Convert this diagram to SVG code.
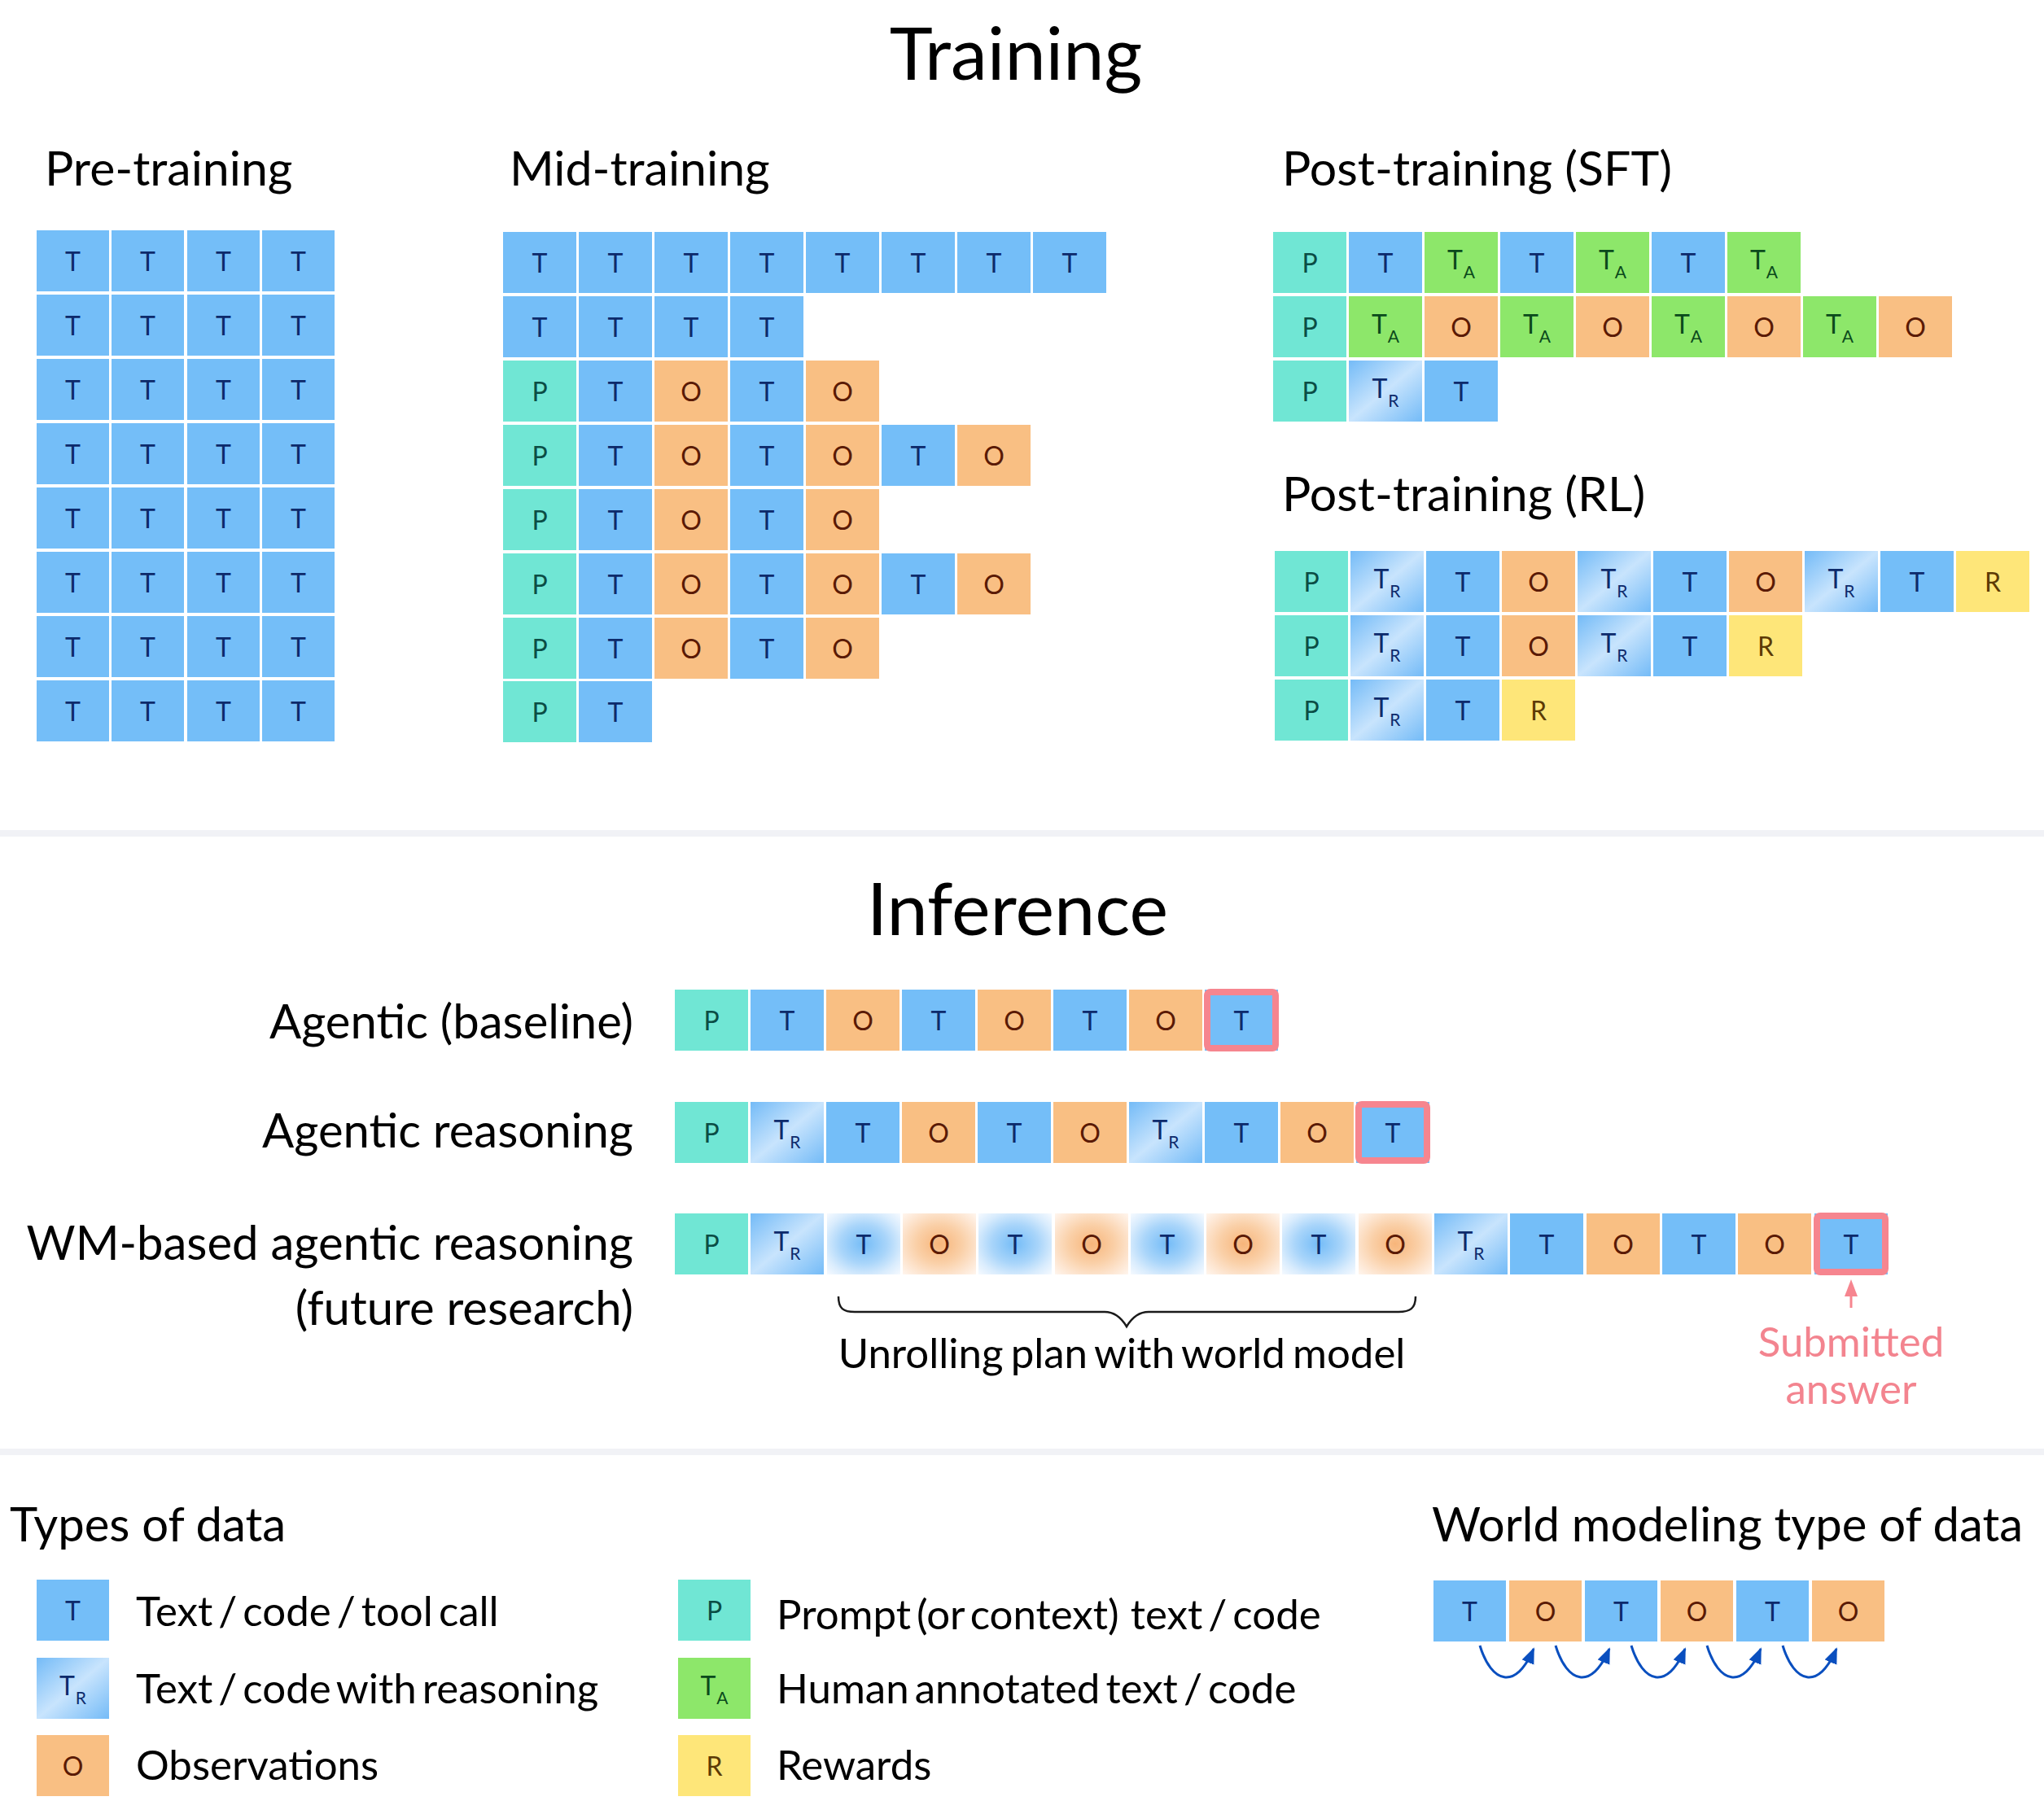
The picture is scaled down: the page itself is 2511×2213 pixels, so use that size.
<svg xmlns="http://www.w3.org/2000/svg" width="2511" height="2213" viewBox="0 0 2511 2213">
<style>
.T{fill:#74bef8}.P{fill:#70e6d4}.O{fill:#f9bf83}.A{fill:#8de76a}.R{fill:#fee679}.G{fill:url(#gTR)}.WT{fill:url(#gWT)}.WO{fill:url(#gWO)}
.t{font-family:Lato,"Open Sans","Liberation Sans",sans-serif;font-size:32px;text-anchor:middle}
.s{font-size:21px}
.nT{fill:#0d2a6b}.nP{fill:#0b4d45}.nO{fill:#5a1a05}.nA{fill:#0b4a1c}.nR{fill:#5c3a05}
.h1{font-family:Lato,"Open Sans","Liberation Sans",sans-serif;font-size:90px;fill:#000;text-anchor:middle}
.h2{font-family:Lato,"Open Sans","Liberation Sans",sans-serif;font-size:59px;fill:#000}
.rl{font-family:Lato,"Open Sans","Liberation Sans",sans-serif;font-size:58px;fill:#000;text-anchor:end}
.lg{font-family:Lato,"Open Sans","Liberation Sans",sans-serif;font-size:51px;fill:#000;word-spacing:-6px}
.hl{fill:none;stroke:#f6858f;stroke-width:8}
.sep{fill:#f1f2f6}
.wmarr{fill:none;stroke:#0a4fbf;stroke-width:3}
</style>
<defs>
<linearGradient id="gTR" x1="0" y1="0" x2="1" y2="1">
<stop offset="0" stop-color="#74bbf7"/><stop offset="0.5" stop-color="#c8e4fd"/><stop offset="1" stop-color="#74bbf7"/>
</linearGradient>
<radialGradient id="gWT" cx="0.5" cy="0.5" r="0.71">
<stop offset="0" stop-color="#74bcf7"/><stop offset="0.45" stop-color="#a9d5fa"/><stop offset="0.75" stop-color="#d9ecfd"/><stop offset="1" stop-color="#f6faff"/>
</radialGradient>
<radialGradient id="gWO" cx="0.5" cy="0.5" r="0.71">
<stop offset="0" stop-color="#f7b57a"/><stop offset="0.45" stop-color="#fad0a8"/><stop offset="0.75" stop-color="#fde5d0"/><stop offset="1" stop-color="#fff6ef"/>
</radialGradient>
<marker id="ah" markerUnits="userSpaceOnUse" markerWidth="22" markerHeight="18" refX="18" refY="8" orient="auto">
<path d="M0,0 L20,8 L0,16 z" fill="#0a4fbf"/>
</marker>
</defs>

<rect x="0" y="0" width="2511" height="2213" fill="#fff"/>

<!-- Titles -->
<text class="h1" x="1248" y="98">Training</text>
<text class="h2" x="55" y="228">Pre-training</text>
<text class="h2" x="626" y="228">Mid-training</text>
<text class="h2" x="1575" y="228">Post-training (SFT)</text>
<text class="h2" x="1575" y="628">Post-training (RL)</text>
<rect class="sep" x="0" y="1020" width="2511" height="8"/>
<text class="h1" x="1250" y="1149">Inference</text>
<rect class="sep" x="0" y="1780" width="2511" height="8"/>

<!-- Pre-training -->
<g id="pretraining">
<g transform="translate(45,283)"><rect class="T" x="0" width="89" height="75"/><text class="t nT" x="44.5" y="50">T</text><rect class="T" x="92" width="89" height="75"/><text class="t nT" x="136.5" y="50">T</text><rect class="T" x="185" width="89" height="75"/><text class="t nT" x="229.5" y="50">T</text><rect class="T" x="277" width="89" height="75"/><text class="t nT" x="321.5" y="50">T</text></g>
<g transform="translate(45,362)"><rect class="T" x="0" width="89" height="75"/><text class="t nT" x="44.5" y="50">T</text><rect class="T" x="92" width="89" height="75"/><text class="t nT" x="136.5" y="50">T</text><rect class="T" x="185" width="89" height="75"/><text class="t nT" x="229.5" y="50">T</text><rect class="T" x="277" width="89" height="75"/><text class="t nT" x="321.5" y="50">T</text></g>
<g transform="translate(45,441)"><rect class="T" x="0" width="89" height="75"/><text class="t nT" x="44.5" y="50">T</text><rect class="T" x="92" width="89" height="75"/><text class="t nT" x="136.5" y="50">T</text><rect class="T" x="185" width="89" height="75"/><text class="t nT" x="229.5" y="50">T</text><rect class="T" x="277" width="89" height="75"/><text class="t nT" x="321.5" y="50">T</text></g>
<g transform="translate(45,520)"><rect class="T" x="0" width="89" height="75"/><text class="t nT" x="44.5" y="50">T</text><rect class="T" x="92" width="89" height="75"/><text class="t nT" x="136.5" y="50">T</text><rect class="T" x="185" width="89" height="75"/><text class="t nT" x="229.5" y="50">T</text><rect class="T" x="277" width="89" height="75"/><text class="t nT" x="321.5" y="50">T</text></g>
<g transform="translate(45,599)"><rect class="T" x="0" width="89" height="75"/><text class="t nT" x="44.5" y="50">T</text><rect class="T" x="92" width="89" height="75"/><text class="t nT" x="136.5" y="50">T</text><rect class="T" x="185" width="89" height="75"/><text class="t nT" x="229.5" y="50">T</text><rect class="T" x="277" width="89" height="75"/><text class="t nT" x="321.5" y="50">T</text></g>
<g transform="translate(45,678)"><rect class="T" x="0" width="89" height="75"/><text class="t nT" x="44.5" y="50">T</text><rect class="T" x="92" width="89" height="75"/><text class="t nT" x="136.5" y="50">T</text><rect class="T" x="185" width="89" height="75"/><text class="t nT" x="229.5" y="50">T</text><rect class="T" x="277" width="89" height="75"/><text class="t nT" x="321.5" y="50">T</text></g>
<g transform="translate(45,757)"><rect class="T" x="0" width="89" height="75"/><text class="t nT" x="44.5" y="50">T</text><rect class="T" x="92" width="89" height="75"/><text class="t nT" x="136.5" y="50">T</text><rect class="T" x="185" width="89" height="75"/><text class="t nT" x="229.5" y="50">T</text><rect class="T" x="277" width="89" height="75"/><text class="t nT" x="321.5" y="50">T</text></g>
<g transform="translate(45,836)"><rect class="T" x="0" width="89" height="75"/><text class="t nT" x="44.5" y="50">T</text><rect class="T" x="92" width="89" height="75"/><text class="t nT" x="136.5" y="50">T</text><rect class="T" x="185" width="89" height="75"/><text class="t nT" x="229.5" y="50">T</text><rect class="T" x="277" width="89" height="75"/><text class="t nT" x="321.5" y="50">T</text></g>
</g>

<!-- Mid-training -->
<g id="midtraining">
<g transform="translate(618,285)"><rect class="T" x="0" width="90" height="75"/><text class="t nT" x="45" y="50">T</text><rect class="T" x="93" width="90" height="75"/><text class="t nT" x="138" y="50">T</text><rect class="T" x="186" width="90" height="75"/><text class="t nT" x="231" y="50">T</text><rect class="T" x="279" width="90" height="75"/><text class="t nT" x="324" y="50">T</text><rect class="T" x="372" width="90" height="75"/><text class="t nT" x="417" y="50">T</text><rect class="T" x="465" width="90" height="75"/><text class="t nT" x="510" y="50">T</text><rect class="T" x="558" width="90" height="75"/><text class="t nT" x="603" y="50">T</text><rect class="T" x="651" width="90" height="75"/><text class="t nT" x="696" y="50">T</text></g>
<g transform="translate(618,364)"><rect class="T" x="0" width="90" height="75"/><text class="t nT" x="45" y="50">T</text><rect class="T" x="93" width="90" height="75"/><text class="t nT" x="138" y="50">T</text><rect class="T" x="186" width="90" height="75"/><text class="t nT" x="231" y="50">T</text><rect class="T" x="279" width="90" height="75"/><text class="t nT" x="324" y="50">T</text></g>
<g transform="translate(618,443)"><rect class="P" x="0" width="90" height="75"/><text class="t nP" x="45" y="50">P</text><rect class="T" x="93" width="90" height="75"/><text class="t nT" x="138" y="50">T</text><rect class="O" x="186" width="90" height="75"/><text class="t nO" x="231" y="50">O</text><rect class="T" x="279" width="90" height="75"/><text class="t nT" x="324" y="50">T</text><rect class="O" x="372" width="90" height="75"/><text class="t nO" x="417" y="50">O</text></g>
<g transform="translate(618,522)"><rect class="P" x="0" width="90" height="75"/><text class="t nP" x="45" y="50">P</text><rect class="T" x="93" width="90" height="75"/><text class="t nT" x="138" y="50">T</text><rect class="O" x="186" width="90" height="75"/><text class="t nO" x="231" y="50">O</text><rect class="T" x="279" width="90" height="75"/><text class="t nT" x="324" y="50">T</text><rect class="O" x="372" width="90" height="75"/><text class="t nO" x="417" y="50">O</text><rect class="T" x="465" width="90" height="75"/><text class="t nT" x="510" y="50">T</text><rect class="O" x="558" width="90" height="75"/><text class="t nO" x="603" y="50">O</text></g>
<g transform="translate(618,601)"><rect class="P" x="0" width="90" height="75"/><text class="t nP" x="45" y="50">P</text><rect class="T" x="93" width="90" height="75"/><text class="t nT" x="138" y="50">T</text><rect class="O" x="186" width="90" height="75"/><text class="t nO" x="231" y="50">O</text><rect class="T" x="279" width="90" height="75"/><text class="t nT" x="324" y="50">T</text><rect class="O" x="372" width="90" height="75"/><text class="t nO" x="417" y="50">O</text></g>
<g transform="translate(618,680)"><rect class="P" x="0" width="90" height="75"/><text class="t nP" x="45" y="50">P</text><rect class="T" x="93" width="90" height="75"/><text class="t nT" x="138" y="50">T</text><rect class="O" x="186" width="90" height="75"/><text class="t nO" x="231" y="50">O</text><rect class="T" x="279" width="90" height="75"/><text class="t nT" x="324" y="50">T</text><rect class="O" x="372" width="90" height="75"/><text class="t nO" x="417" y="50">O</text><rect class="T" x="465" width="90" height="75"/><text class="t nT" x="510" y="50">T</text><rect class="O" x="558" width="90" height="75"/><text class="t nO" x="603" y="50">O</text></g>
<g transform="translate(618,759)"><rect class="P" x="0" width="90" height="75"/><text class="t nP" x="45" y="50">P</text><rect class="T" x="93" width="90" height="75"/><text class="t nT" x="138" y="50">T</text><rect class="O" x="186" width="90" height="75"/><text class="t nO" x="231" y="50">O</text><rect class="T" x="279" width="90" height="75"/><text class="t nT" x="324" y="50">T</text><rect class="O" x="372" width="90" height="75"/><text class="t nO" x="417" y="50">O</text></g>
<g transform="translate(618,837)"><rect class="P" x="0" width="90" height="75"/><text class="t nP" x="45" y="50">P</text><rect class="T" x="93" width="90" height="75"/><text class="t nT" x="138" y="50">T</text></g>
</g>

<!-- Post-training SFT -->
<g id="sft">
<g transform="translate(1564,285)"><rect class="P" x="0" width="90" height="75"/><text class="t nP" x="45" y="50">P</text><rect class="T" x="93" width="90" height="75"/><text class="t nT" x="138" y="50">T</text><rect class="A" x="186" width="90" height="75"/><text class="t nA" x="231" y="46">T<tspan class="s" dx="1" dy="11">A</tspan></text><rect class="T" x="279" width="90" height="75"/><text class="t nT" x="324" y="50">T</text><rect class="A" x="372" width="90" height="75"/><text class="t nA" x="417" y="46">T<tspan class="s" dx="1" dy="11">A</tspan></text><rect class="T" x="465" width="90" height="75"/><text class="t nT" x="510" y="50">T</text><rect class="A" x="558" width="90" height="75"/><text class="t nA" x="603" y="46">T<tspan class="s" dx="1" dy="11">A</tspan></text></g>
<g transform="translate(1564,364)"><rect class="P" x="0" width="90" height="75"/><text class="t nP" x="45" y="50">P</text><rect class="A" x="93" width="90" height="75"/><text class="t nA" x="138" y="46">T<tspan class="s" dx="1" dy="11">A</tspan></text><rect class="O" x="186" width="90" height="75"/><text class="t nO" x="231" y="50">O</text><rect class="A" x="279" width="90" height="75"/><text class="t nA" x="324" y="46">T<tspan class="s" dx="1" dy="11">A</tspan></text><rect class="O" x="372" width="90" height="75"/><text class="t nO" x="417" y="50">O</text><rect class="A" x="465" width="90" height="75"/><text class="t nA" x="510" y="46">T<tspan class="s" dx="1" dy="11">A</tspan></text><rect class="O" x="558" width="90" height="75"/><text class="t nO" x="603" y="50">O</text><rect class="A" x="651" width="90" height="75"/><text class="t nA" x="696" y="46">T<tspan class="s" dx="1" dy="11">A</tspan></text><rect class="O" x="744" width="90" height="75"/><text class="t nO" x="789" y="50">O</text></g>
<g transform="translate(1564,443)"><rect class="P" x="0" width="90" height="75"/><text class="t nP" x="45" y="50">P</text><rect class="G" x="93" width="90" height="75"/><text class="t nT" x="138" y="46">T<tspan class="s" dx="1" dy="11">R</tspan></text><rect class="T" x="186" width="90" height="75"/><text class="t nT" x="231" y="50">T</text></g>
</g>

<!-- Post-training RL -->
<g id="rl">
<g transform="translate(1566,677)"><rect class="P" x="0" width="90" height="75"/><text class="t nP" x="45" y="50">P</text><rect class="G" x="93" width="90" height="75"/><text class="t nT" x="138" y="46">T<tspan class="s" dx="1" dy="11">R</tspan></text><rect class="T" x="186" width="90" height="75"/><text class="t nT" x="231" y="50">T</text><rect class="O" x="279" width="90" height="75"/><text class="t nO" x="324" y="50">O</text><rect class="G" x="372" width="90" height="75"/><text class="t nT" x="417" y="46">T<tspan class="s" dx="1" dy="11">R</tspan></text><rect class="T" x="465" width="90" height="75"/><text class="t nT" x="510" y="50">T</text><rect class="O" x="558" width="90" height="75"/><text class="t nO" x="603" y="50">O</text><rect class="G" x="651" width="90" height="75"/><text class="t nT" x="696" y="46">T<tspan class="s" dx="1" dy="11">R</tspan></text><rect class="T" x="744" width="90" height="75"/><text class="t nT" x="789" y="50">T</text><rect class="R" x="837" width="90" height="75"/><text class="t nR" x="882" y="50">R</text></g>
<g transform="translate(1566,756)"><rect class="P" x="0" width="90" height="75"/><text class="t nP" x="45" y="50">P</text><rect class="G" x="93" width="90" height="75"/><text class="t nT" x="138" y="46">T<tspan class="s" dx="1" dy="11">R</tspan></text><rect class="T" x="186" width="90" height="75"/><text class="t nT" x="231" y="50">T</text><rect class="O" x="279" width="90" height="75"/><text class="t nO" x="324" y="50">O</text><rect class="G" x="372" width="90" height="75"/><text class="t nT" x="417" y="46">T<tspan class="s" dx="1" dy="11">R</tspan></text><rect class="T" x="465" width="90" height="75"/><text class="t nT" x="510" y="50">T</text><rect class="R" x="558" width="90" height="75"/><text class="t nR" x="603" y="50">R</text></g>
<g transform="translate(1566,835)"><rect class="P" x="0" width="90" height="75"/><text class="t nP" x="45" y="50">P</text><rect class="G" x="93" width="90" height="75"/><text class="t nT" x="138" y="46">T<tspan class="s" dx="1" dy="11">R</tspan></text><rect class="T" x="186" width="90" height="75"/><text class="t nT" x="231" y="50">T</text><rect class="R" x="279" width="90" height="75"/><text class="t nR" x="324" y="50">R</text></g>
</g>

<!-- Inference -->
<g id="inf-baseline">
<text class="rl" x="778" y="1276">Agentic (baseline)</text>
<g transform="translate(829,1216)"><rect class="P" x="0" width="90" height="75"/><text class="t nP" x="45" y="50">P</text><rect class="T" x="93" width="90" height="75"/><text class="t nT" x="138" y="50">T</text><rect class="O" x="186" width="90" height="75"/><text class="t nO" x="231" y="50">O</text><rect class="T" x="279" width="90" height="75"/><text class="t nT" x="324" y="50">T</text><rect class="O" x="372" width="90" height="75"/><text class="t nO" x="417" y="50">O</text><rect class="T" x="465" width="90" height="75"/><text class="t nT" x="510" y="50">T</text><rect class="O" x="558" width="90" height="75"/><text class="t nO" x="603" y="50">O</text><rect class="T" x="651" width="90" height="75"/><rect class="hl" x="654" y="3" width="84" height="69" rx="4"/><text class="t nT" x="696" y="50">T</text></g>
</g>
<g id="inf-reasoning">
<text class="rl" x="778" y="1410">Agentic reasoning</text>
<g transform="translate(829,1354)"><rect class="P" x="0" width="90" height="75"/><text class="t nP" x="45" y="50">P</text><rect class="G" x="93" width="90" height="75"/><text class="t nT" x="138" y="46">T<tspan class="s" dx="1" dy="11">R</tspan></text><rect class="T" x="186" width="90" height="75"/><text class="t nT" x="231" y="50">T</text><rect class="O" x="279" width="90" height="75"/><text class="t nO" x="324" y="50">O</text><rect class="T" x="372" width="90" height="75"/><text class="t nT" x="417" y="50">T</text><rect class="O" x="465" width="90" height="75"/><text class="t nO" x="510" y="50">O</text><rect class="G" x="558" width="90" height="75"/><text class="t nT" x="603" y="46">T<tspan class="s" dx="1" dy="11">R</tspan></text><rect class="T" x="651" width="90" height="75"/><text class="t nT" x="696" y="50">T</text><rect class="O" x="744" width="90" height="75"/><text class="t nO" x="789" y="50">O</text><rect class="T" x="837" width="90" height="75"/><rect class="hl" x="840" y="3" width="84" height="69" rx="4"/><text class="t nT" x="882" y="50">T</text></g>
</g>
<g id="inf-wm">
<text class="rl" x="778" y="1548">WM-based agentic reasoning</text>
<text class="rl" x="778" y="1628">(future research)</text>
<g transform="translate(829,1491)"><rect class="P" x="0" width="90" height="75"/><text class="t nP" x="45" y="50">P</text><rect class="G" x="93" width="90" height="75"/><text class="t nT" x="138" y="46">T<tspan class="s" dx="1" dy="11">R</tspan></text><rect class="WT" x="187" width="90" height="75"/><text class="t nT" x="232" y="50">T</text><rect class="WO" x="280" width="90" height="75"/><text class="t nO" x="325" y="50">O</text><rect class="WT" x="373" width="90" height="75"/><text class="t nT" x="418" y="50">T</text><rect class="WO" x="467" width="90" height="75"/><text class="t nO" x="512" y="50">O</text><rect class="WT" x="560" width="90" height="75"/><text class="t nT" x="605" y="50">T</text><rect class="WO" x="653" width="90" height="75"/><text class="t nO" x="698" y="50">O</text><rect class="WT" x="746" width="90" height="75"/><text class="t nT" x="791" y="50">T</text><rect class="WO" x="840" width="90" height="75"/><text class="t nO" x="885" y="50">O</text><rect class="G" x="933" width="90" height="75"/><text class="t nT" x="978" y="46">T<tspan class="s" dx="1" dy="11">R</tspan></text><rect class="T" x="1026" width="90" height="75"/><text class="t nT" x="1071" y="50">T</text><rect class="O" x="1120" width="90" height="75"/><text class="t nO" x="1165" y="50">O</text><rect class="T" x="1213" width="90" height="75"/><text class="t nT" x="1258" y="50">T</text><rect class="O" x="1306" width="90" height="75"/><text class="t nO" x="1351" y="50">O</text><rect class="T" x="1400" width="90" height="75"/><rect class="hl" x="1403" y="3" width="84" height="69" rx="4"/><text class="t nT" x="1445" y="50">T</text></g>
</g>

<g id="connectors">
<path d="M1030,1593 C1030,1608 1036,1612 1050,1612 L1357,1612 C1370,1612 1378,1620 1384,1630 C1390,1620 1398,1612 1411,1612 L1718,1612 C1732,1612 1739,1608 1739,1593" fill="none" stroke="#1a1a1a" stroke-width="2.5"/>
<line x1="2274" y1="1607" x2="2274" y2="1588" stroke="#f6858f" stroke-width="3"/>
<path d="M2274,1572 L2282,1593 L2266,1593 z" fill="#f6858f"/>
<path class="wmarr" marker-end="url(#ah)" d="M1818,2022 C1832,2068 1862,2078 1884,2026"/>
<path class="wmarr" marker-end="url(#ah)" d="M1911,2022 C1925,2068 1955,2078 1977,2026"/>
<path class="wmarr" marker-end="url(#ah)" d="M2004,2022 C2018,2068 2048,2078 2070,2026"/>
<path class="wmarr" marker-end="url(#ah)" d="M2097,2022 C2111,2068 2141,2078 2163,2026"/>
<path class="wmarr" marker-end="url(#ah)" d="M2190,2022 C2204,2068 2234,2078 2256,2026"/>
</g>

<g id="labels">
<text class="lg" x="1378" y="1681" text-anchor="middle" style="word-spacing:-4px">Unrolling plan with world model</text>
<text class="lg" x="2274" y="1667" text-anchor="middle" style="fill:#f3848f">Submitted</text>
<text class="lg" x="2274" y="1725" text-anchor="middle" style="fill:#f3848f">answer</text>
</g>

<!-- Legend -->
<g id="legend-types">
<text class="h2" x="12" y="1894" style="font-size:58px">Types of data</text>
<g transform="translate(45,1941)"><rect class="T" width="89" height="75"/><text class="t nT" x="44.5" y="50">T</text></g>
<text class="lg" x="167" y="1998">Text / code / tool call</text>
<g transform="translate(45,2037)"><rect class="G" width="89" height="75"/><text class="t nT" x="44.5" y="46">T<tspan class="s" dx="1" dy="11">R</tspan></text></g>
<text class="lg" x="167" y="2093">Text / code with reasoning</text>
<g transform="translate(45,2132)"><rect class="O" width="89" height="75"/><text class="t nO" x="44.5" y="50">O</text></g>
<text class="lg" x="167" y="2187">Observations</text>
<g transform="translate(833,1941)"><rect class="P" width="89" height="75"/><text class="t nP" x="44.5" y="50">P</text></g>
<text class="lg" x="954" y="2002" style="white-space:pre">Prompt (or context)  text / code</text>
<g transform="translate(833,2037)"><rect class="A" width="89" height="75"/><text class="t nA" x="44.5" y="46">T<tspan class="s" dx="1" dy="11">A</tspan></text></g>
<text class="lg" x="954" y="2093">Human annotated text / code</text>
<g transform="translate(833,2132)"><rect class="R" width="89" height="75"/><text class="t nR" x="44.5" y="50">R</text></g>
<text class="lg" x="954" y="2187">Rewards</text>
</g>
<g id="legend-wm">
<text class="h2" x="1759" y="1894" style="font-size:58px">World modeling type of data</text>
<g transform="translate(1761,1942)"><rect class="T" x="0" width="89" height="75"/><text class="t nT" x="44.5" y="50">T</text><rect class="O" x="93" width="89" height="75"/><text class="t nO" x="137.5" y="50">O</text><rect class="T" x="186" width="89" height="75"/><text class="t nT" x="230.5" y="50">T</text><rect class="O" x="279" width="89" height="75"/><text class="t nO" x="323.5" y="50">O</text><rect class="T" x="372" width="89" height="75"/><text class="t nT" x="416.5" y="50">T</text><rect class="O" x="465" width="89" height="75"/><text class="t nO" x="509.5" y="50">O</text></g>
</g>
</svg>
